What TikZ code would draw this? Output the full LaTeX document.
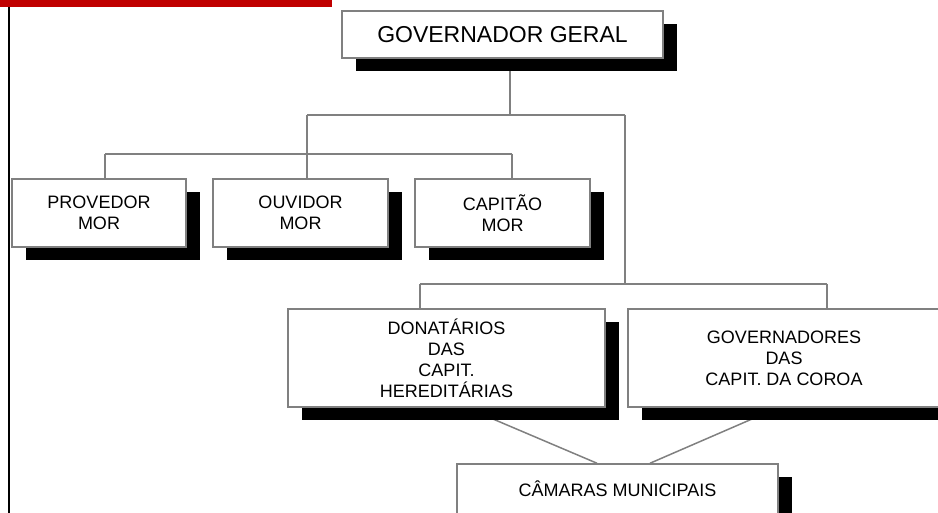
\documentclass[tikz,border=0pt]{standalone}
\usepackage{fontspec}
\setmainfont{Liberation Sans}
\usetikzlibrary{calc,shadows,backgrounds}
\definecolor{barra}{RGB}{192,0,0}
\definecolor{linha}{RGB}{128,128,128}

\tikzset{
  cargo/.style={draw=linha, line width=1.5pt, fill=white, align=center, inner sep=0pt,
    font=\fontsize{18}{21}\selectfont,
    general shadow={fill=black, shadow xshift=14pt, shadow yshift=-13pt}},
  ligacao/.style={draw=linha, line width=2pt},
}

\begin{document}
\begin{tikzpicture}[x=1pt,y=-1pt]
  \useasboundingbox (0,0) rectangle (938,513);
  \clip (0,0) rectangle (938,513);

  \fill[barra] (0,0) rectangle (332,7);
  \draw[black, line width=1.5pt] (9,7) -- (9,513);

  \node[cargo, minimum width=321pt, minimum height=47pt, font=\fontsize{23}{26}\selectfont] (gg) at (502.5,34.5) {GOVERNADOR GERAL};

  \node[cargo, minimum width=174pt, minimum height=68pt] (prov) at (99,213) {PROVEDOR\\MOR};
  \node[cargo, minimum width=175pt, minimum height=68pt] (ouv) at (300.5,213) {OUVIDOR\\MOR};
  \node[cargo, minimum width=175pt, minimum height=68pt] (cap) at (502.5,213) {CAPITÃO\\MOR};

  \node[cargo, minimum width=317pt, minimum height=98pt] (don) at (446.5,358) {DONATÁRIOS\\DAS\\CAPIT.\\HEREDITÁRIAS};
  \node[cargo, minimum width=312pt, minimum height=98pt] (gov) at (784,358) {GOVERNADORES\\DAS\\CAPIT. DA COROA};

  \node[cargo, minimum width=321pt, minimum height=50pt] (cam) at (617.5,489) {CÂMARAS MUNICIPAIS};

  \begin{pgfonlayer}{background}
    \coordinate (ramo) at (510,115);
    \coordinate (esq) at (307,115);
    \coordinate (dir) at (625,115);
    \coordinate (a1) at (105,154);
    \coordinate (a2) at (307,154);
    \coordinate (a3) at (512,154);
    \coordinate (b1) at (420,284);
    \coordinate (b2) at (827,284);

    \draw[ligacao] (gg.south -| ramo) -- (ramo);
    \draw[ligacao] (esq) -- (dir);
    \draw[ligacao] (esq) -- (a2);
    \draw[ligacao] (a1) -- (a3);
    \draw[ligacao] (a1) -- (a1 |- prov.north);
    \draw[ligacao] (a2) -- (a2 |- ouv.north);
    \draw[ligacao] (a3) -- (a3 |- cap.north);
    \draw[ligacao] (dir) -- (dir |- b1);
    \draw[ligacao] (b1) -- (b2);
    \draw[ligacao] (b1) -- (b1 |- don.north);
    \draw[ligacao] (b2) -- (b2 |- gov.north);
    % para as camaras
    \draw[ligacao, line width=1.5pt] ($(don.south)+(20,0)$) -- ($(cam.north)+(-20.5,0)$);
    \draw[ligacao, line width=1.5pt] ($(gov.south)+(-6,0)$) -- ($(cam.north)+(32.5,0)$);
  \end{pgfonlayer}
\end{tikzpicture}
\end{document}
